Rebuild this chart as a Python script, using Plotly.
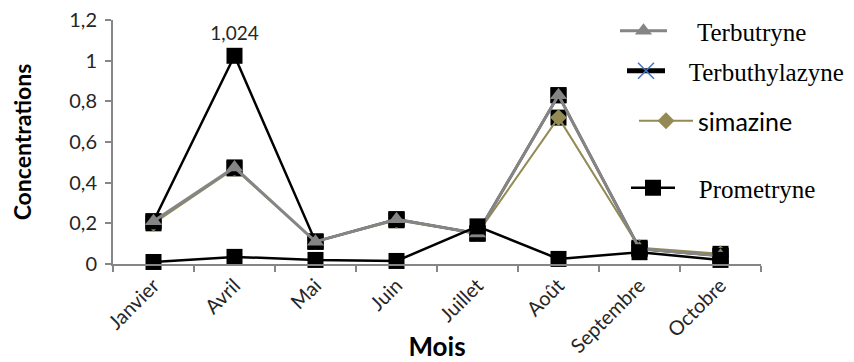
import plotly.graph_objects as go

mois = ["Janvier", "Avril", "Mai", "Juin", "Juillet", "Août", "Septembre", "Octobre"]
terbutryne = [0.21, 0.475, 0.11, 0.22, 0.15, 0.83, 0.075, 0.04]
terbuthylazyne = [0.21, 1.024, 0.11, 0.22, 0.15, 0.83, 0.075, 0.04]
simazine = [0.20, 0.47, 0.11, 0.215, 0.15, 0.72, 0.08, 0.05]
prometryne = [0.01, 0.035, 0.02, 0.015, 0.185, 0.025, 0.058, 0.02]

GRAY = "#858585"
OLIVE = "#948A54"
AX = "#868686"
SANS = "Lato"
SERIF = "Liberation Serif"
NB = "\u00a0"

L, R, T, B = 113, 93, 20, 98
W, H = 854, 362
PW, PH = W - L - R, H - T - B

peak = max(terbuthylazyne)
labels = [("%.3f" % v).replace(".", ",") if v == peak else "" for v in terbuthylazyne]

fig = go.Figure()

# Terbuthylazyne (black line, square markers, peak label)
fig.add_trace(go.Scatter(
    x=mois, y=terbuthylazyne, mode="lines+markers+text", name="Terbuthylazyne",
    line=dict(color="black", width=2.5),
    marker=dict(symbol="square", size=16, color="black"),
    text=labels, textposition="top center",
    textfont=dict(family=SANS, size=19, color="#262626"),
    showlegend=False, cliponaxis=False))

# simazine backing squares + line
fig.add_trace(go.Scatter(
    x=mois, y=simazine, mode="markers", showlegend=False,
    marker=dict(symbol="square", size=16, color="black"), cliponaxis=False))
fig.add_trace(go.Scatter(
    x=mois, y=simazine, mode="lines+markers", name="simazine",
    line=dict(color=OLIVE, width=2),
    marker=dict(symbol="diamond", size=13, color=OLIVE),
    legend="legend3", cliponaxis=False))

# Terbutryne backing squares + line
fig.add_trace(go.Scatter(
    x=mois, y=terbutryne, mode="markers", showlegend=False,
    marker=dict(symbol="square", size=16, color="black"), cliponaxis=False))
fig.add_trace(go.Scatter(
    x=mois, y=terbutryne, mode="lines+markers", name=NB * 4 + "Terbutryne",
    line=dict(color=GRAY, width=3),
    marker=dict(symbol="triangle-up", size=15, color=GRAY),
    legend="legend", cliponaxis=False))

# Prometryne
fig.add_trace(go.Scatter(
    x=mois, y=prometryne, mode="lines+markers", name=NB * 3 + "Prometryne",
    line=dict(color="black", width=2.5),
    marker=dict(symbol="square", size=16, color="black"),
    legend="legend4", cliponaxis=False))

# legend entry for Terbuthylazyne
fig.add_trace(go.Scatter(
    x=[None], y=[None], mode="lines+markers", name=NB * 3 + "Terbuthylazyne",
    line=dict(color="black", width=5),
    marker=dict(symbol="x-thin", size=16, color="#4472C4",
                line=dict(color="#4472C4", width=1.5)),
    legend="legend2"))

def leg(px, py, iw, family, size):
    return dict(xref="paper", yref="paper", x=(px - L) / PW, y=(H - B - py) / PH,
                xanchor="left", yanchor="middle", bgcolor="rgba(0,0,0,0)",
                borderwidth=0, itemwidth=iw,
                font=dict(family=family, size=size, color="black"))

fig.update_layout(
    width=W, height=H,
    margin=dict(l=L, r=R, t=T, b=B, autoexpand=False),
    paper_bgcolor="white", plot_bgcolor="white",
    separators=", ",
    showlegend=True,
    legend=leg(615, 31, 47, SERIF, 25),
    legend2=leg(622, 71, 38, SERIF, 25),
    legend3=leg(634, 121, 54, SANS, 25),
    legend4=leg(626, 188, 44, SERIF, 25),
    xaxis=dict(
        type="category", range=[-0.5, 7.5], showline=True, linecolor=AX, linewidth=2,
        ticks="outside", tickson="boundaries", ticklen=6, tickcolor=AX, tickwidth=1.5,
        tickangle=-45, tickfont=dict(family=SANS, size=20, color="#262626"),
        showgrid=False, zeroline=False,
        title=dict(text="<b>Mois</b>", font=dict(family=SANS, size=26, color="black"), standoff=1)),
    yaxis=dict(
        range=[0, 1.2], dtick=0.2, showline=True, linecolor=AX, linewidth=2,
        ticks="outside", ticklen=6, tickcolor=AX, tickwidth=1.5, ticklabelstandoff=4,
        tickfont=dict(family=SANS, size=20, color="#262626"),
        showgrid=False, zeroline=False,
        title=dict(text="<b>Concentrations</b>", font=dict(family=SANS, size=23, color="black"), standoff=31)),
)

fig.write_html("out.html")
